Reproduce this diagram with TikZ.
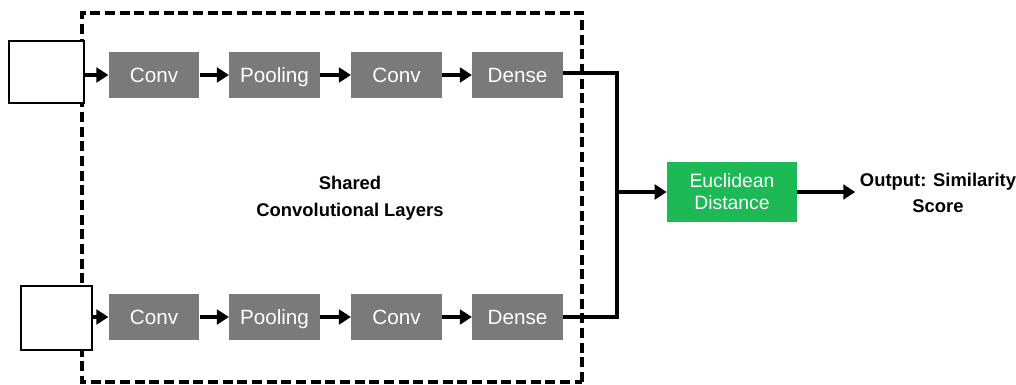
\documentclass[tikz,border=0pt]{standalone}
\usepackage{fontspec}
\setmainfont{Liberation Sans}
\usetikzlibrary{arrows.meta}
\definecolor{boxgray}{HTML}{7A7A7A}
\definecolor{eucgreen}{HTML}{1DB954}
\begin{document}
\begin{tikzpicture}[x=0.75pt,y=-0.75pt,
  layer/.style={fill=boxgray,draw=none,minimum width=68pt,minimum height=34pt,inner sep=0pt,text=white,text height=11pt,text depth=0pt,font=\fontsize{15.5}{17}\selectfont},
  inbox/.style={draw=black,line width=1.5pt,fill=white,inner sep=0pt},
  conn/.style={line width=2.6pt,-{Triangle[length=9pt,width=11pt]}},
  wire/.style={line width=2.6pt},
  lbl/.style={font=\bfseries\fontsize{13.8}{20}\selectfont,align=center}]
\useasboundingbox (0,0) rectangle (1016,385);
% dashed container
\draw[line width=2.4pt,dash pattern=on 7.5pt off 3.5pt] (582,382) -- (582,13) -- (82,13) -- (82,382) -- cycle;
% input boxes
\node[inbox,minimum width=56pt,minimum height=46.5pt] (in1) at (46.5,72) {};
\node[inbox,minimum width=53pt,minimum height=48pt] (in2) at (56.5,318) {};
% top row
\node[layer] (c1) at (154,75) {Conv};
\node[layer] (p1) at (274.5,75) {Pooling};
\node[layer] (c2) at (396.5,75) {Conv};
\node[layer] (d1) at (517.5,75) {Dense};
% bottom row
\node[layer] (c3) at (154,317) {Conv};
\node[layer] (p2) at (274.5,317) {Pooling};
\node[layer] (c4) at (396.5,317) {Conv};
\node[layer] (d2) at (517.5,317) {Dense};
% shared label
\node[lbl] (shared) at (350,198) {Shared\\Convolutional Layers};
% euclidean
\node[fill=eucgreen,minimum width=97.5pt,minimum height=45pt,inner sep=0pt,text=white,align=center,font=\fontsize{14.5}{16.5}\selectfont] (euc) at (732,192) {Euclidean\\Distance};
\node[lbl] (out) at (938,193) {Output: Similarity\\Score};
% arrows
\draw[conn] (in1.east |- c1) -- (c1);
\draw[conn] (c1) -- (p1);
\draw[conn] (p1) -- (c2);
\draw[conn] (c2) -- (d1);
\draw[conn] (in2.east |- c3) -- (c3);
\draw[conn] (c3) -- (p2);
\draw[conn] (p2) -- (c4);
\draw[conn] (c4) -- (d2);
\coordinate (j1) at (617,73);
\coordinate (j2) at (617,317);
\coordinate (jm) at (617,192);
\draw[wire] (d1.east |- j1) -- (j1) -- (j2) -- (d2.east |- j2);
\draw[conn] (jm) -- (euc);
\draw[conn] (euc) -- (out.west |- euc);
\end{tikzpicture}
\end{document}
